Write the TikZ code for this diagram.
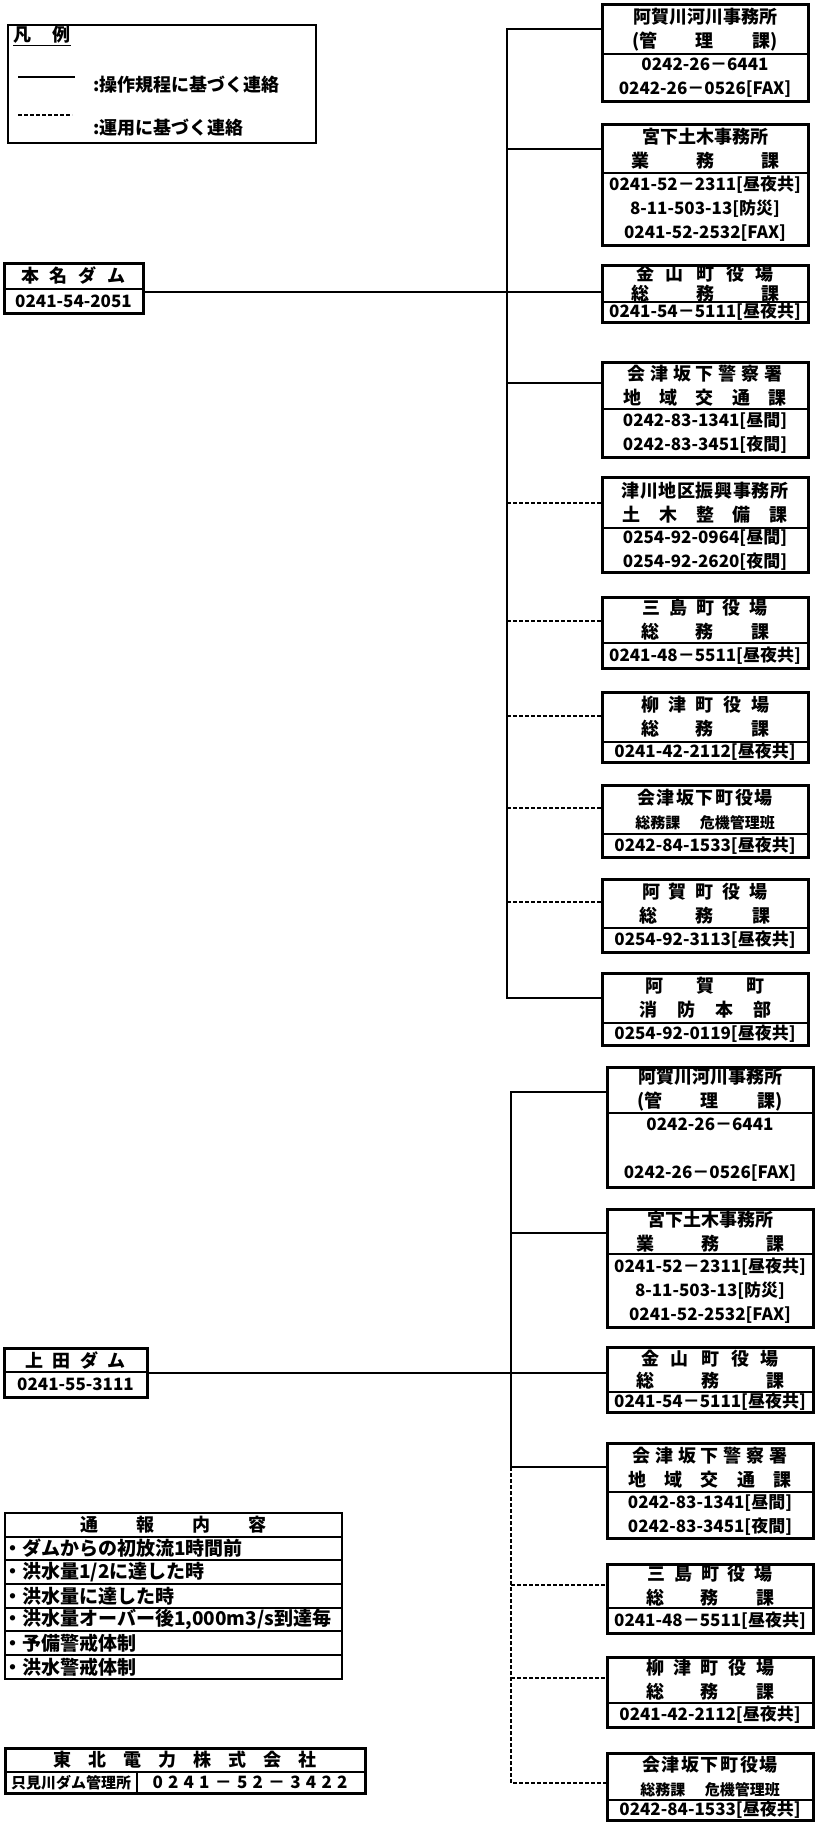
\documentclass[tikz,border=0pt]{standalone}
\usepackage{fontspec}
\setmainfont{Noto Sans CJK JP}
\usetikzlibrary{fit}
\newcommand\spr[2]{\makebox[#1pt][s]{#2}}
\tikzset{
  boxo/.style={draw, line width=3pt, inner sep=0pt},
  part/.style={inner sep=0pt, outer sep=0pt, anchor=north west},
  divl/.style={line width=1.6pt},
  txt/.style={inner sep=0pt, align=center, font=\fontsize{18}{24}\selectfont\bfseries},
  ntxt/.style={inner sep=0pt, align=center, font=\fontsize{17}{24}\selectfont\bfseries},
  ttxt/.style={inner sep=0pt, anchor=west, font=\fontsize{19}{24}\selectfont\bfseries},
  conn/.style={line width=1.7pt},
  dconn/.style={line width=1.7pt, dash pattern=on 4pt off 2pt},
  rowbox/.style={draw, line width=2.2pt, inner sep=0pt, outer sep=0pt, anchor=north west, minimum width=337pt},
}
% name, x1, x2, ytop, ydiv, ybot, yconn, top text, bottom text
\newcommand\rbox[9]{%
  \node[part, minimum width={(#3-#2)*1pt}, minimum height={(#5-#4)*1pt}] (#1t) at (#2,#4) {};
  \node[part, minimum width={(#3-#2)*1pt}, minimum height={(#6-#5)*1pt}] (#1b) at (#2,#5) {};
  \node[boxo, fit=(#1t)(#1b)] (#1) {};
  \draw[divl] (#1t.south west) -- (#1t.south east);
  \node[txt] (#1tt) at (#1t.center) {#8};
  \node[ntxt] (#1bt) at (#1b.center) {#9};
  \coordinate (#1-in) at (#2,#7);
}
\begin{document}
\begin{tikzpicture}[x=1pt, y=-1pt]
\useasboundingbox (0,0) rectangle (815,1822);

% ---------- legend ----------
\node[draw, line width=1.6pt, inner sep=0pt, anchor=north west, minimum width=308pt, minimum height=118pt] (leg) at (7,24) {};
\node[txt, anchor=west] (legh) at (13,36) {\underline{凡\hspace{1.2em}例}};
\coordinate (ls1) at (18,77); \coordinate (le1) at (75,77);
\coordinate (ls2) at (18,115); \coordinate (le2) at (72,115);
\draw[conn] (ls1) -- (le1);
\draw[dconn] (ls2) -- (le2);
\node[txt, anchor=west] (leg1) at (93,85) {:操作規程に基づく連絡};
\node[txt, anchor=west] (leg2) at (93,128) {:運用に基づく連絡};

% ---------- dams ----------
\rbox{hon}{4}{143}{263}{289}{313}{292}{\spr{105}{本\hfill 名\hfill ダ\hfill ム}}{0241-54-2051}
\rbox{ueda}{4}{147}{1348}{1372}{1397}{1373}{\spr{100}{上\hfill 田\hfill ダ\hfill ム}}{0241-55-3111}

% ---------- upper cluster ----------
\rbox{k1}{602}{808}{5}{54}{102}{29}{阿賀川河川事務所\\\spr{146}{(管\hfill 理\hfill 課)}}{0242-26－6441\\0242-26－0526[FAX]}
\rbox{k2}{602}{808}{125}{173}{245}{149}{宮下土木事務所\\\spr{148}{業\hfill 務\hfill 課}}{0241-52－2311[昼夜共]\\8-11-503-13[防災]\\0241-52-2532[FAX]}
\rbox{k3}{602}{808}{265}{302}{322}{292}{\spr{138}{金\hfill 山\hfill 町\hfill 役\hfill 場}\\[-4pt]\spr{148}{総\hfill 務\hfill 課}}{0241-54－5111[昼夜共]}
\rbox{k4}{602}{808}{362}{409}{457}{383}{\spr{155}{会\hfill 津\hfill 坂\hfill 下\hfill 警\hfill 察\hfill 署}\\\spr{163}{地\hfill 域\hfill 交\hfill 通\hfill 課}}{0242-83-1341[昼間]\\0242-83-3451[夜間]}
\rbox{k5}{602}{808}{477}{528}{572}{503}{\spr{167}{津\hfill 川\hfill 地\hfill 区\hfill 振\hfill 興\hfill 事\hfill 務\hfill 所}\\\spr{165}{土\hfill 木\hfill 整\hfill 備\hfill 課}}{0254-92-0964[昼間]\\0254-92-2620[夜間]}
\rbox{k6}{602}{808}{597}{643}{668}{621}{\spr{125}{三\hfill 島\hfill 町\hfill 役\hfill 場}\\\spr{128}{総\hfill 務\hfill 課}}{0241-48－5511[昼夜共]}
\rbox{k7}{602}{808}{692}{742}{762}{716}{\spr{128}{柳\hfill 津\hfill 町\hfill 役\hfill 場}\\\spr{128}{総\hfill 務\hfill 課}}{0241-42-2112[昼夜共]}
\rbox{k8}{602}{808}{785}{834}{857}{808}{\spr{136}{会\hfill 津\hfill 坂\hfill 下\hfill 町\hfill 役\hfill 場}\\{\fontsize{15}{24}\selectfont 総務課\hspace{1.3em}危機管理班}}{0242-84-1533[昼夜共]}
\rbox{k9}{602}{808}{879}{928}{952}{902}{\spr{126}{阿\hfill 賀\hfill 町\hfill 役\hfill 場}\\\spr{131}{総\hfill 務\hfill 課}}{0254-92-3113[昼夜共]}
\rbox{k10}{602}{808}{973}{1023}{1045}{998}{\spr{120}{阿\hfill 賀\hfill 町}\\\spr{132}{消\hfill 防\hfill 本\hfill 部}}{0254-92-0119[昼夜共]}

\coordinate (tA) at (507,29);
\draw[conn] (k1-in) -- (k1-in -| tA) -- (k10-in -| tA) -- (k10-in);
\draw[conn] (k2-in -| tA) -- (k2-in);
\draw[conn] (hon.east |- k3-in) -- (k3-in);
\draw[conn] (k4-in -| tA) -- (k4-in);
\draw[dconn] (k5-in -| tA) -- (k5-in);
\draw[dconn] (k6-in -| tA) -- (k6-in);
\draw[dconn] (k7-in -| tA) -- (k7-in);
\draw[dconn] (k8-in -| tA) -- (k8-in);
\draw[dconn] (k9-in -| tA) -- (k9-in);

% ---------- lower cluster ----------
\rbox{l1}{607}{813}{1067}{1113}{1187}{1092}{阿賀川河川事務所\\\spr{146}{(管\hfill 理\hfill 課)}}{0242-26－6441\\[24pt]0242-26－0526[FAX]}
\rbox{l2}{607}{813}{1209}{1254}{1327}{1233}{宮下土木事務所\\\spr{148}{業\hfill 務\hfill 課}}{0241-52－2311[昼夜共]\\8-11-503-13[防災]\\0241-52-2532[FAX]}
\rbox{l3}{607}{813}{1347}{1392}{1412}{1373}{\spr{138}{金\hfill 山\hfill 町\hfill 役\hfill 場}\\[-2pt]\spr{148}{総\hfill 務\hfill 課}}{0241-54－5111[昼夜共]}
\rbox{l4}{607}{813}{1443}{1492}{1538}{1467}{\spr{155}{会\hfill 津\hfill 坂\hfill 下\hfill 警\hfill 察\hfill 署}\\\spr{163}{地\hfill 域\hfill 交\hfill 通\hfill 課}}{0242-83-1341[昼間]\\0242-83-3451[夜間]}
\rbox{l5}{607}{813}{1564}{1608}{1633}{1585}{\spr{125}{三\hfill 島\hfill 町\hfill 役\hfill 場}\\\spr{128}{総\hfill 務\hfill 課}}{0241-48－5511[昼夜共]}
\rbox{l6}{607}{813}{1657}{1703}{1727}{1678}{\spr{128}{柳\hfill 津\hfill 町\hfill 役\hfill 場}\\\spr{128}{総\hfill 務\hfill 課}}{0241-42-2112[昼夜共]}
\rbox{l7}{607}{813}{1753}{1800}{1820}{1783}{\spr{136}{会\hfill 津\hfill 坂\hfill 下\hfill 町\hfill 役\hfill 場}\\{\fontsize{15}{24}\selectfont 総務課\hspace{1.3em}危機管理班}}{0242-84-1533[昼夜共]}

\coordinate (tB) at (511,1092);
\draw[conn] (l1-in) -- (l1-in -| tB) -- (l4-in -| tB) -- (l4-in);
\draw[conn] (l2-in -| tB) -- (l2-in);
\draw[conn] (ueda.east |- l3-in) -- (l3-in);
\draw[dconn] (l4-in -| tB) -- (l7-in -| tB) -- (l7-in);
\draw[dconn] (l5-in -| tB) -- (l5-in);
\draw[dconn] (l6-in -| tB) -- (l6-in);

% ---------- report table ----------
\node[rowbox, minimum height=24pt] (r0) at (5,1513) {};
\node[rowbox, minimum height=23pt] (r1) at (5,1537) {};
\node[rowbox, minimum height=24pt] (r2) at (5,1560) {};
\node[rowbox, minimum height=24pt] (r3) at (5,1584) {};
\node[rowbox, minimum height=23pt] (r4) at (5,1608) {};
\node[rowbox, minimum height=24pt] (r5) at (5,1631) {};
\node[rowbox, minimum height=24pt] (r6) at (5,1655) {};
\node[txt] (r0t) at (r0.center) {\spr{187}{通\hfill 報\hfill 内\hfill 容}};
\node[ttxt] (r1t) at ([xshift=-2pt]r1.west) {・ダムからの初放流1時間前};
\node[ttxt] (r2t) at ([xshift=-2pt]r2.west) {・洪水量1/2に達した時};
\node[ttxt] (r3t) at ([xshift=-2pt]r3.west) {・洪水量に達した時};
\node[ttxt] (r4t) at ([xshift=-2pt]r4.west) {・洪水量オーバー後1,000m3/s到達毎};
\node[ttxt] (r5t) at ([xshift=-2pt]r5.west) {・予備警戒体制};
\node[ttxt] (r6t) at ([xshift=-2pt]r6.west) {・洪水警戒体制};

% ---------- Tohoku Electric ----------
\rbox{toh}{5}{365}{1748}{1772}{1793}{1760}{\spr{264}{東\hfill 北\hfill 電\hfill 力\hfill 株\hfill 式\hfill 会\hfill 社}}{}
\coordinate (tohv) at (137,1772);
\draw[line width=2pt] (tohv) -- (tohv |- tohb.south);
\coordinate (tohl) at (71,1782.5);
\coordinate (tohr) at (250,1782.5);
\node[txt, font=\fontsize{15}{18}\selectfont\bfseries] (tohlt) at (tohl) {只見川ダム管理所};
\node[txt, font=\fontsize{17}{18}\selectfont\bfseries] (tohrt) at (tohr) {\spr{195}{0\hfill 2\hfill 4\hfill 1\hfill －\hfill 5\hfill 2\hfill －\hfill 3\hfill 4\hfill 2\hfill 2}};
\end{tikzpicture}
\end{document}
